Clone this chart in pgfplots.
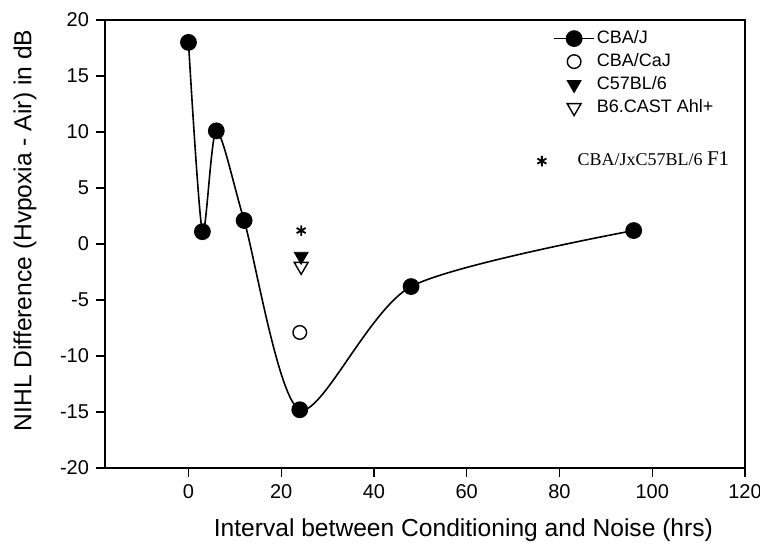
\documentclass[border=0pt]{standalone}
\usepackage{fontspec}
\setmainfont{Liberation Sans}
\newfontfamily\timesfont{Liberation Serif}
\usepackage{pgfplots}
\pgfplotsset{compat=1.18}

\begin{document}
\begin{tikzpicture}
\useasboundingbox (-52.5pt,-40.5pt) rectangle (327.5pt,234pt);
\begin{axis}[
  scale only axis,
  width=320pt, height=224pt,
  xmin=-18, xmax=120, ymin=-20, ymax=20,
  xtick={0,20,40,60,80,100,120},
  ytick={-20,-15,...,20},
  tick align=outside, tick pos=left,
  major tick length=4.5pt,
  clip=false,
  axis line style={line width=0.8pt},
  tick style={line width=0.7pt, black},
  /pgf/number format/assume math mode=true,
  tick label style={font=\fontsize{10}{12}\selectfont},
  xlabel={Interval between Conditioning and Noise (hrs)},
  ylabel={NIHL Difference (Hvpoxia - Air) in dB},
  label style={font=\fontsize{12.3}{14}\selectfont},
  xlabel style={at={(axis description cs:0.56,-0.1384)}, anchor=center},
  ylabel style={at={(axis description cs:-0.125,0.53)}, anchor=center},
  legend style={draw=none, fill=none, at={(axis description cs:0.70,0.985)},
    anchor=north west, font=\fontsize{9}{11}\selectfont,
    row sep=0pt, inner sep=0pt,
    nodes={inner sep=1pt, text height=7pt, text depth=2.5pt}},
  legend cell align=left,
  legend image code/.code={
    \draw[mark repeat=2, mark phase=2, #1] plot coordinates {(0cm,0cm) (0.35cm,0cm) (0.7cm,0cm)};
  },
]
\addplot[black, line width=0.8pt, smooth, tension=0.45, mark=*, mark size=3.8pt,
  mark options={fill=black}]
  coordinates {(0,18) (3,1.1) (6,10.1) (12,2.1) (24,-14.8) (48,-3.8) (96,1.2)};
\addlegendentry{CBA/J}

\addplot[black, only marks, mark=o, mark size=3.4pt, line width=0.7pt]
  coordinates {(24,-7.9)};
\addlegendentry{CBA/CaJ}

\addplot[black, only marks, mark=triangle*, mark size=4pt,
  mark options={rotate=180, fill=black}]
  coordinates {(24.3,-1.1)};
\addlegendentry{C57BL/6}

\addplot[black, only marks, mark=triangle, mark size=4pt, line width=0.7pt,
  mark options={rotate=180, fill=white}]
  coordinates {(24.3,-2.0)};
\addlegendentry{B6.CAST Ahl+}

\addplot[black, only marks, mark=asterisk, mark size=2.6pt, line width=0.9pt, forget plot]
  coordinates {(24.3,1.2) (76.2,7.4)};

\node[anchor=west, inner sep=0pt, font=\timesfont\fontsize{9}{11}\selectfont] at (axis cs:83.8,7.6)
  {CBA/JxC57BL/6 {\fontsize{10.5}{11}\selectfont F1}};

\draw[black, line width=0.9pt] (rel axis cs:0,0) rectangle (rel axis cs:1,1);
\end{axis}
\end{tikzpicture}
\end{document}
